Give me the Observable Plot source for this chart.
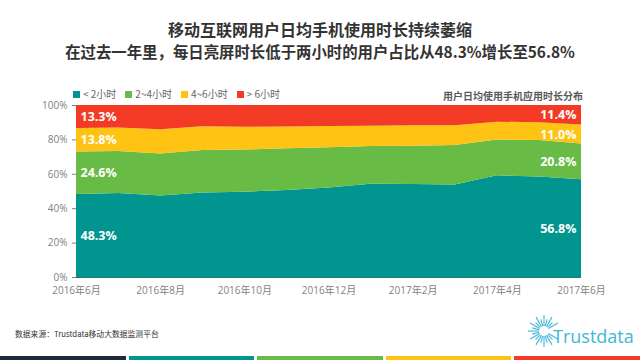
<!DOCTYPE html>
<html>
<head>
<meta charset="utf-8">
<script src="https://cdn.jsdelivr.net/npm/d3@7"></script>
<script src="https://cdn.jsdelivr.net/npm/@observablehq/plot@0.6"></script>
<style>
  html, body { margin: 0; padding: 0; background: #fff; }
  #page { position: relative; width: 640px; height: 360px; overflow: hidden; font-family: "Noto Sans CJK SC", "Open Sans", sans-serif; }
  .t1, .t2 { position: absolute; left: 0; width: 640px; text-align: center; font-weight: bold; color: #333; white-space: nowrap; }
  .t1 { top: 19px; font-size: 16px; line-height: 20px; }
  .t2 { top: 40px; font-size: 15.4px; line-height: 22px; }
  #legend { position: absolute; left: 73px; top: 87px; display: flex; font-size: 10px; color: #666; line-height: 14px; }
  #legend .it { display: flex; align-items: center; margin-right: 9px; }
  #legend .sw { width: 7px; height: 7px; margin-right: 3px; }
  .rt { position: absolute; right: 57px; top: 89px; font-size: 10px; font-weight: bold; color: #595959; line-height: 14px; }
  #chart { position: absolute; left: 0; top: 85px; }
  .src { position: absolute; left: 15px; top: 328px; font-size: 7.8px; color: #333; line-height: 12px; }
  #bars { position: absolute; left: 0; top: 356px; width: 640px; height: 4px; display: flex; }
  #bars div { flex: 1; margin-right: 3px; }
  #bars div:last-child { margin-right: 0; }
  #logo { position: absolute; left: 526px; top: 312px; }
</style>
</head>
<body>
<div id="page">
  <div class="t1">移动互联网用户日均手机使用时长持续萎缩</div>
  <div class="t2">在过去一年里，每日亮屏时长低于两小时的用户占比从48.3%增长至56.8%</div>
  <div id="legend"></div>
  <div class="rt">用户日均使用手机应用时长分布</div>
  <div id="chart"></div>
  <div class="src">数据来源：Trustdata移动大数据监测平台</div>
  <svg id="logo" width="114" height="42"></svg>
  <div id="bars"></div>
</div>
<script>
// ---- data ----
const months = ["2016年6月","2016年7月","2016年8月","2016年9月","2016年10月","2016年11月","2016年12月","2017年1月","2017年2月","2017年3月","2017年4月","2017年5月","2017年6月"];
const seriesNames = ["< 2小时", "2~4小时", "4~6小时", "> 6小时"];
const under2  = [48.3, 48.8, 47.4, 49.2, 49.6, 50.6, 52.0, 54.2, 54.0, 53.8, 59.1, 58.4, 56.8];
const h2to4   = [24.6, 24.5, 24.4, 24.7, 24.5, 24.2, 23.4, 21.9, 22.3, 22.9, 20.8, 21.2, 20.8];
const h4to6   = [13.8, 13.6, 14.1, 13.7, 13.2, 12.7, 12.4, 11.9, 11.9, 11.5, 10.4, 10.3, 11.0];
const over6   = [13.3, 13.1, 14.1, 12.4, 12.7, 12.5, 12.2, 12.0, 11.8, 11.8, 9.7, 10.1, 11.4];
const yTicks = [0, 20, 40, 60, 80, 100];
const xTickIdx = [0, 2, 4, 6, 8, 10, 12];

const colors = ["#00958f", "#68bb45", "#fec313", "#f33a24"];
const seriesValues = [under2, h2to4, h4to6, over6];

const rows = [];
seriesNames.forEach((s, k) => seriesValues[k].forEach((v, i) => rows.push({i, s, v})));

// legend
const legend = document.getElementById("legend");
seriesNames.forEach((s, k) => {
  const it = document.createElement("div"); it.className = "it";
  const sw = document.createElement("div"); sw.className = "sw"; sw.style.background = colors[k];
  const tx = document.createElement("span"); tx.textContent = s;
  it.appendChild(sw); it.appendChild(tx); legend.appendChild(it);
});

const last = months.length - 1;
const chart = Plot.plot({
  width: 640,
  height: 217,
  marginTop: 20,
  marginBottom: 25,
  marginLeft: 76,
  marginRight: 59,
  style: {fontFamily: "'Open Sans', 'Noto Sans CJK SC', sans-serif", fontSize: "10px", color: "#7f7f7f", background: "transparent"},
  x: {domain: [0, last], ticks: xTickIdx, tickFormat: i => months[i], tickSize: 0, tickPadding: 9, label: null},
  y: {domain: [0, 100], ticks: yTicks, tickFormat: d => d + "%", tickSize: 4, tickPadding: 5, label: null},
  color: {domain: seriesNames, range: colors},
  marks: [
    Plot.areaY(rows, {x: "i", y: "v", z: "s", fill: "s", order: seriesNames}),
    Plot.ruleY([0], {stroke: "#1b7c78", strokeWidth: 1}),
    Plot.text(rows, Plot.stackY({
      filter: d => d.i === 0, x: "i", y: "v", z: "s", order: seriesNames,
      text: d => d.v.toFixed(1) + "%", textAnchor: "start", dx: 4,
      fill: "white", fontWeight: "bold", fontSize: 12.5
    })),
    Plot.text(rows, Plot.stackY({
      filter: d => d.i === last, x: "i", y: "v", z: "s", order: seriesNames,
      text: d => d.v.toFixed(1) + "%", textAnchor: "end", dx: -5,
      fill: "white", fontWeight: "bold", fontSize: 12.5
    }))
  ]
});
document.getElementById("chart").appendChild(chart);

// bottom decorative bars
const barColors = ["#1e2b3a", "#00958f", "#68bb45", "#fec313", "#f33a24"];
const bars = document.getElementById("bars");
barColors.forEach(c => { const d = document.createElement("div"); d.style.background = c; bars.appendChild(d); });

// logo
const logo = d3.select("#logo");
const cx = 18, cy = 19;
for (let a = 0; a < 360; a += 15) {
  if (a > 330 || a < 30) continue; // right side is taken by the text
  const r = a * Math.PI / 180;
  const r0 = 5, r1 = 9 + (a % 30 === 0 ? 7 : 3);
  logo.append("line")
    .attr("x1", cx + r0 * Math.cos(r)).attr("y1", cy + r0 * Math.sin(r))
    .attr("x2", cx + r1 * Math.cos(r)).attr("y2", cy + r1 * Math.sin(r))
    .attr("stroke", "#41b6d8").attr("stroke-width", 1.1);
}
logo.append("text").attr("x", 27).attr("y", 31).attr("font-family", "'Open Sans', sans-serif")
  .attr("font-size", 18).attr("fill", "#41b6d8").text("Trustdata");
</script>
</body>
</html>
